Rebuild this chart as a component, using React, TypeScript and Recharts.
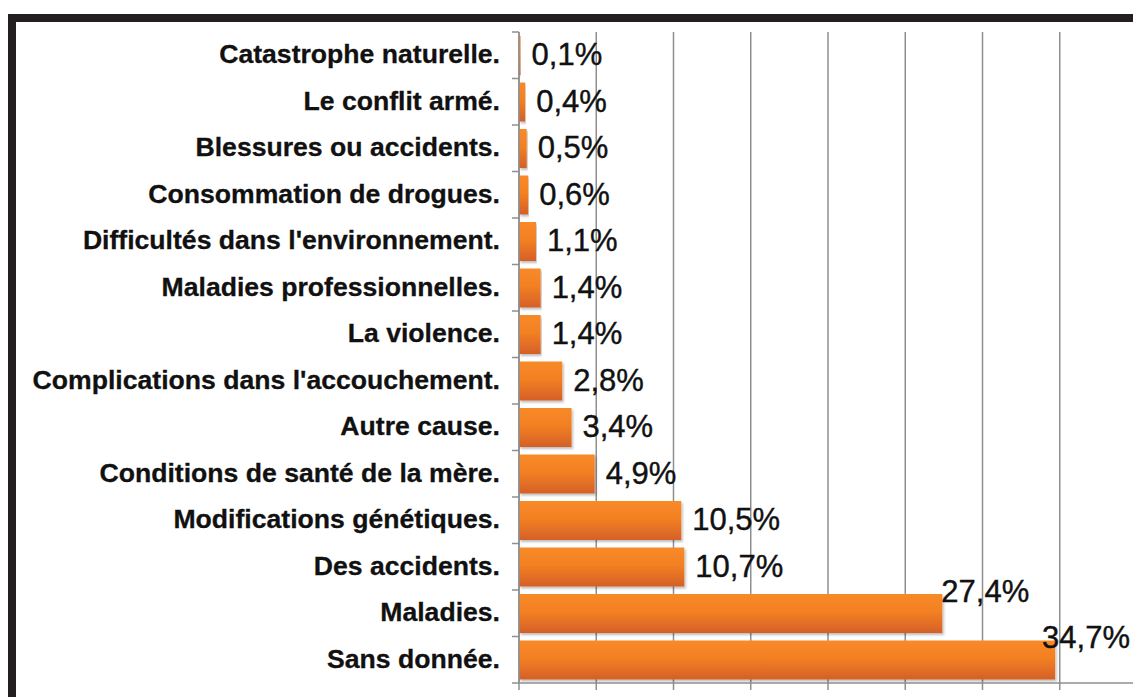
import { BarChart, Bar, XAxis, YAxis, CartesianGrid, LabelList } from 'recharts';

const CATEGORIES = [
  'Catastrophe naturelle.',
  'Le conflit armé.',
  'Blessures ou accidents.',
  'Consommation de drogues.',
  "Difficultés dans l'environnement.",
  'Maladies professionnelles.',
  'La violence.',
  "Complications dans l'accouchement.",
  'Autre cause.',
  'Conditions de santé de la mère.',
  'Modifications génétiques.',
  'Des accidents.',
  'Maladies.',
  'Sans donnée.',
];

const VALUES = [0.1, 0.4, 0.5, 0.6, 1.1, 1.4, 1.4, 2.8, 3.4, 4.9, 10.5, 10.7, 27.4, 34.7];

const X_TICKS = [0, 5, 10, 15, 20, 25, 30, 35, 40];

const data = CATEGORIES.map((name, i) => ({ name, value: VALUES[i] }));

const W = 1125;
const H = 675;
const MARGIN = { top: 10, right: 4, bottom: 0, left: 0 };
const Y_AXIS_W = 503;
const X_AXIS_H = 14;
const PLOT_RIGHT = W - MARGIN.right;
const BAND = (H - MARGIN.top - MARGIN.bottom - X_AXIS_H) / CATEGORIES.length;

const FONT = '"Liberation Sans", Arial, sans-serif';
const GRID = '#8f8f8f';
const CAT_FS = 26.6;
const VAL_FS = 31;

const fmt = (v: number) => v.toFixed(1).replace('.', ',') + '%';

// rough Arial widths for digits , and %
const textWidth = (s: string) =>
  s.split('').reduce((w, c) => w + (c === ',' ? 0.278 : c === '%' ? 0.889 : 0.556), 0) * VAL_FS;

const CategoryTick = (props: any) => {
  const { y, payload } = props;
  const top = y - BAND / 2;
  const isLast = payload.value === CATEGORIES[CATEGORIES.length - 1];
  return (
    <g>
      <text
        x={Y_AXIS_W - 19}
        y={y + 0.3 * CAT_FS}
        textAnchor="end"
        fontFamily={FONT}
        fontWeight="bold"
        fontSize={CAT_FS}
        fill="#111"
        stroke="#111"
        strokeWidth={0.3}
      >
        {payload.value}
      </text>
      <line x1={Y_AXIS_W - 7} x2={Y_AXIS_W} y1={top} y2={top} stroke={GRID} strokeWidth={1.5} />
      {isLast && (
        <line x1={Y_AXIS_W - 7} x2={Y_AXIS_W} y1={top + BAND} y2={top + BAND} stroke={GRID} strokeWidth={1.5} />
      )}
    </g>
  );
};

const EmptyTick = () => <g />;

const ValueLabel = (props: any) => {
  const { x, y, width, height, value } = props;
  const text = fmt(Number(value));
  const tw = textWidth(text);
  const end = x + width;
  let tx = end + 11;
  let cy = y + height / 2;
  if (value > 20) {
    // long bars: the label sits on the bar's top edge
    tx = Math.min(end - 1, PLOT_RIGHT - 7 - tw);
    cy = y - 2;
  }
  return (
    <text
      x={tx}
      y={cy + 0.32 * VAL_FS}
      fontFamily={FONT}
      fontSize={VAL_FS}
      fill="#111"
      stroke="#111"
      strokeWidth={0.4}
    >
      {text}
    </text>
  );
};

export default function App() {
  return (
    <div style={{ paddingTop: 6 }}>
      <style>{'html,body{overflow:hidden}'}</style>
      <div
        style={{
          borderTop: '8px solid #231f20',
          borderLeft: '8px solid #231f20',
          width: W,
          height: H,
          background: '#fff',
        }}
      >
        <BarChart width={W} height={H} data={data} layout="vertical" margin={MARGIN}>
          <defs>
            <linearGradient id="barGrad" x1="0" y1="0" x2="0" y2="1">
              <stop offset="0%" stopColor="#f88a28" />
              <stop offset="45%" stopColor="#f38023" />
              <stop offset="100%" stopColor="#d46027" />
            </linearGradient>
            <filter id="barShadow" x="-5%" y="-20%" width="110%" height="150%">
              <feDropShadow dx="1.5" dy="2" stdDeviation="1.2" floodColor="#000" floodOpacity="0.25" />
            </filter>
          </defs>
          <CartesianGrid horizontal={false} stroke={GRID} strokeWidth={1.5} />
          <XAxis
            type="number"
            domain={[0, 40]}
            ticks={X_TICKS}
            interval={0}
            height={X_AXIS_H}
            axisLine={{ stroke: GRID, strokeWidth: 1.5 }}
            tickLine={{ stroke: GRID, strokeWidth: 1.5 }}
            tickSize={7}
            tick={EmptyTick}
          />
          <YAxis
            type="category"
            dataKey="name"
            width={Y_AXIS_W}
            interval={0}
            axisLine={{ stroke: GRID, strokeWidth: 1.5 }}
            tickLine={false}
            tick={CategoryTick}
          />
          <Bar
            dataKey="value"
            fill="url(#barGrad)"
            barSize={39}
            filter="url(#barShadow)"
            isAnimationActive={false}
          >
            <LabelList dataKey="value" content={ValueLabel} />
          </Bar>
        </BarChart>
      </div>
    </div>
  );
}
